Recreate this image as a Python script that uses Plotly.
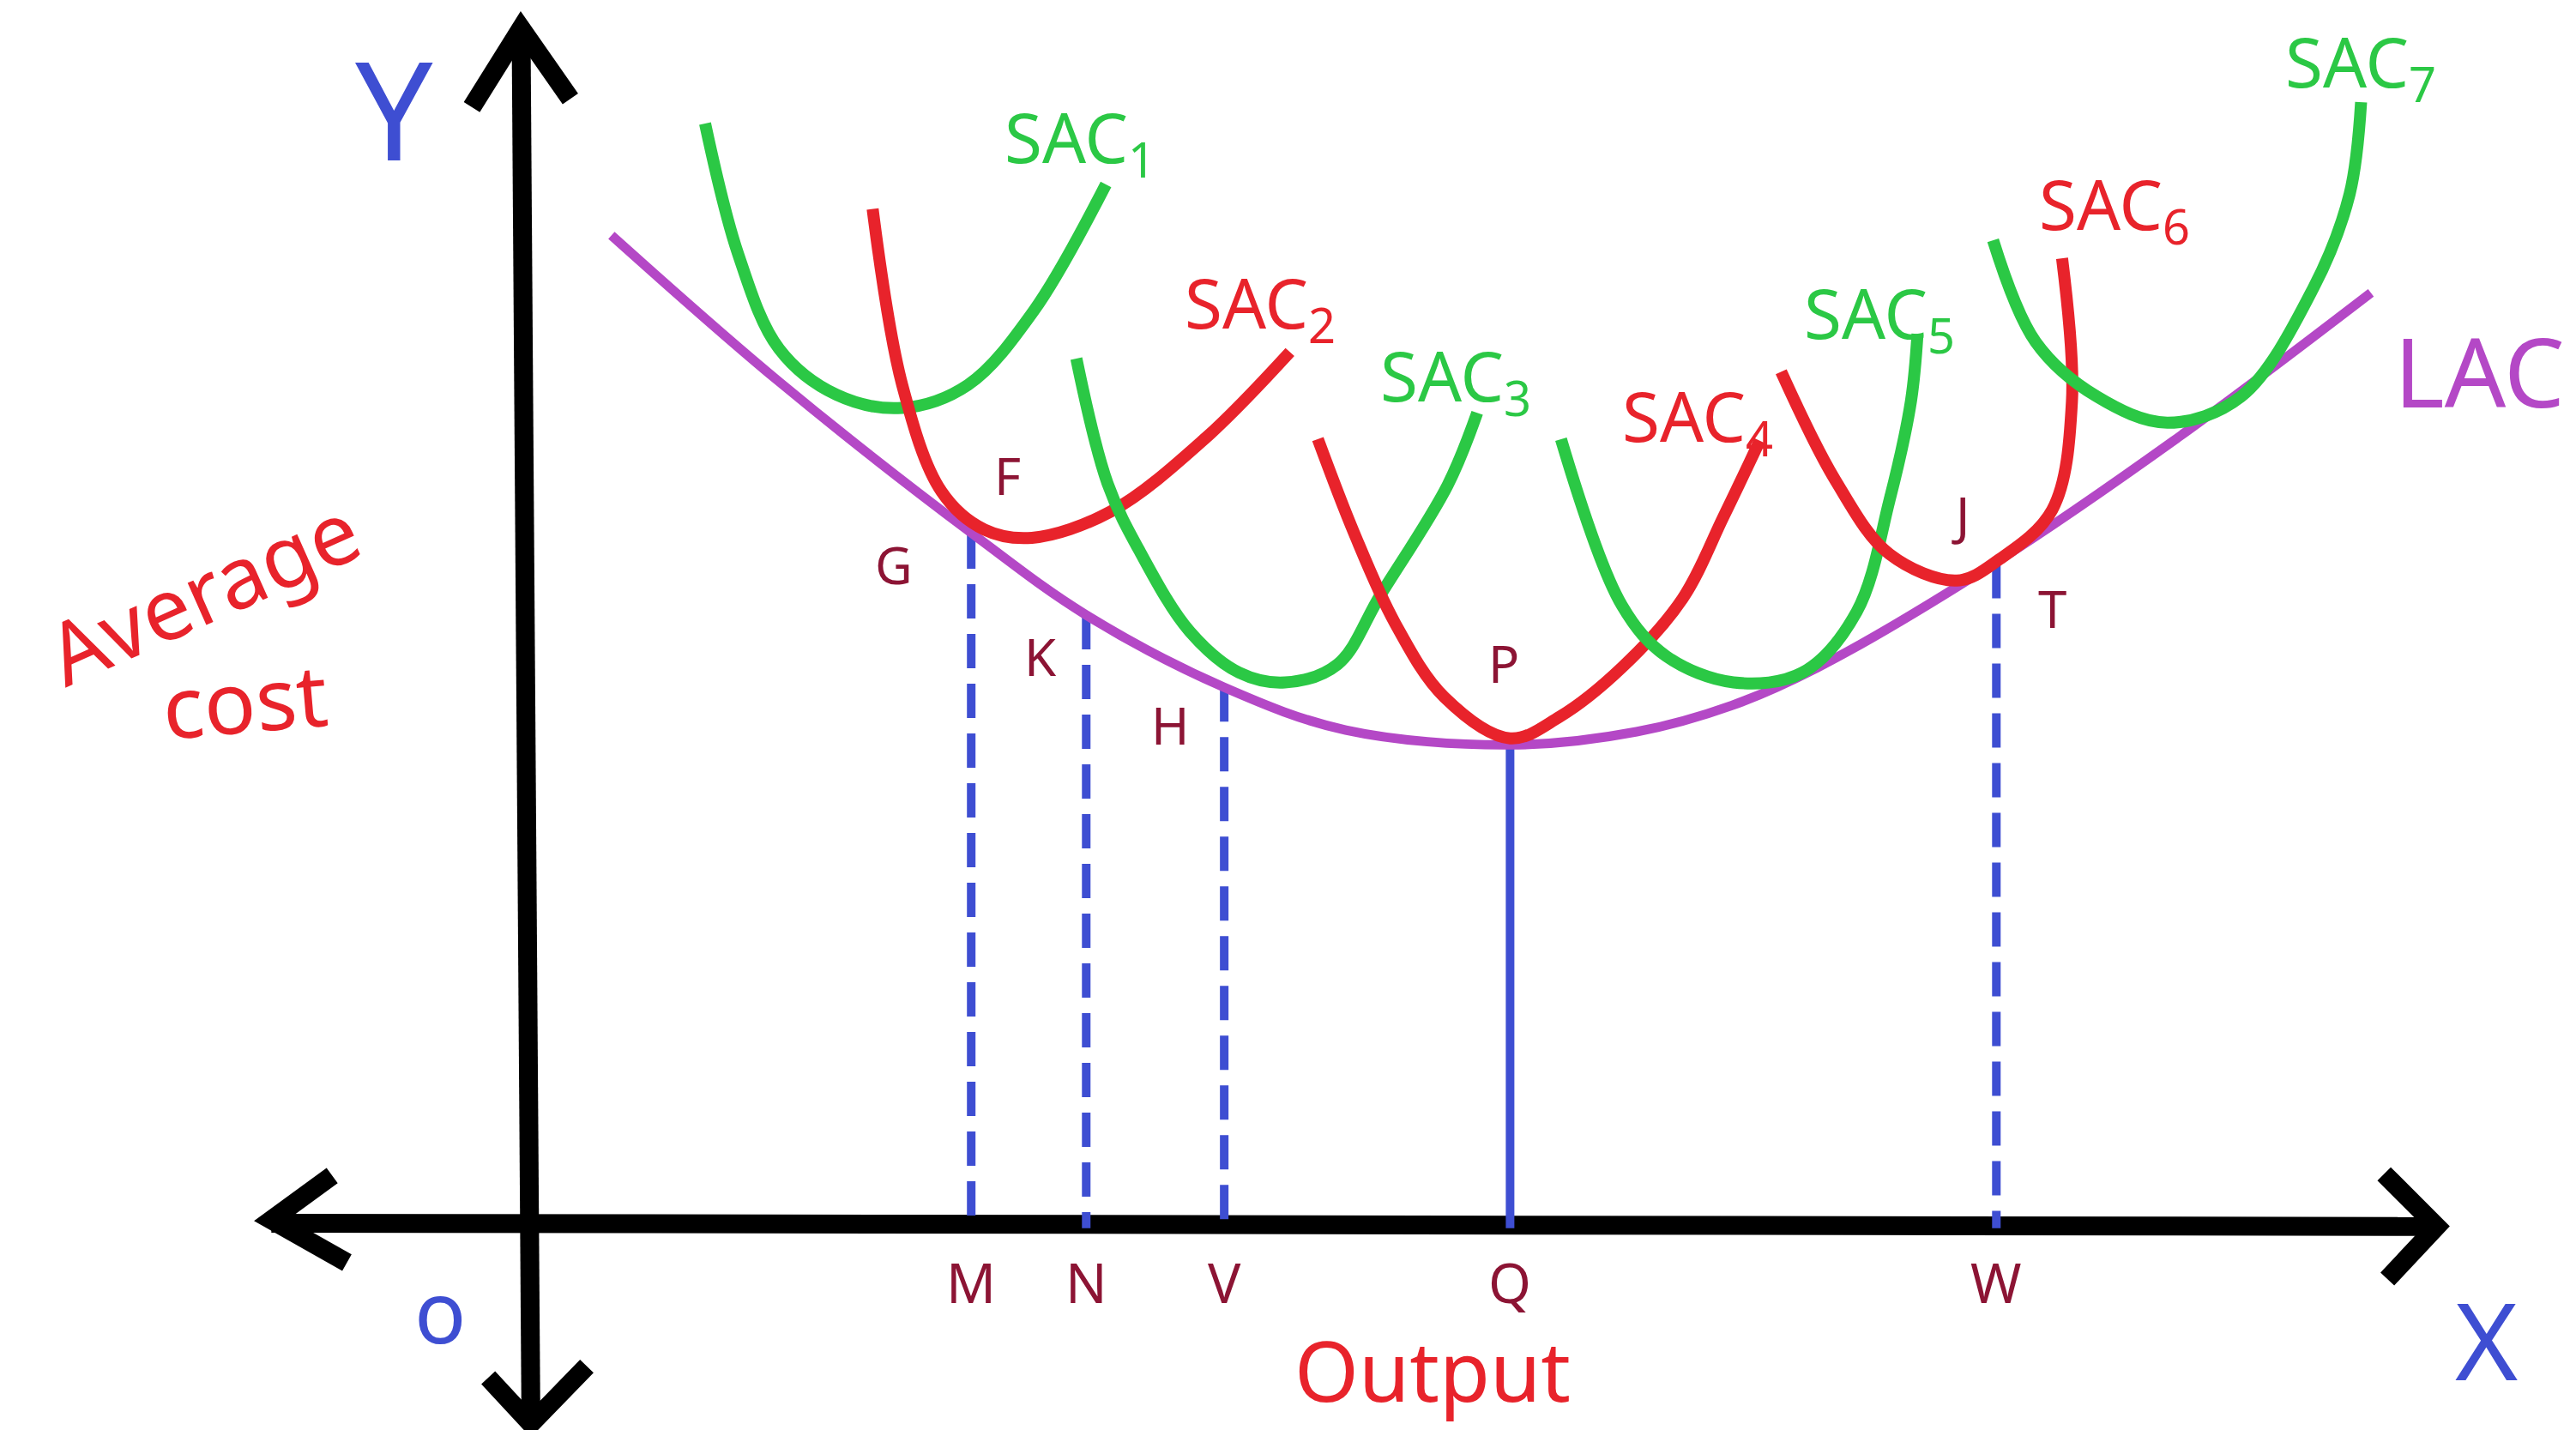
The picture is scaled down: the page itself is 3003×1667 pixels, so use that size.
import plotly.graph_objects as go

# Long-run average cost envelope (output, cost)
lac_x = [5.0, 15.2, 26.9, 33.9, 42.3, 49.7, 59.7, 67.4, 73.2, 78.4, 89.1, 100.5, 112.1]
lac_y = [60.4, 51.5, 42.3, 37.3, 32.9, 30.3, 29.4, 30.2, 31.8, 34.1, 40.4, 48.2, 56.9]

# Short-run average cost curves
sac1_x = [10.7, 12.7, 15.2, 18.7, 22.7, 26.7, 30.7, 35.1]
sac1_y = [67.2, 59.3, 53.5, 50.7, 49.9, 51.3, 55.8, 63.5]
sac2_x = [20.9, 22.7, 25.1, 27.7, 30.6, 35.4, 41.2, 46.3]
sac2_y = [62.0, 51.3, 44.8, 42.5, 42.0, 43.6, 48.1, 53.3]
sac3_x = [33.3, 35.2, 37.2, 40.2, 43.2, 46.0, 49.2, 51.8, 55.9, 57.7]
sac3_y = [52.9, 45.3, 41.1, 36.3, 33.8, 33.2, 34.3, 38.5, 45.2, 49.6]
sac4_x = [48.0, 50.2, 52.7, 55.7, 59.7, 62.7, 66.5, 70.2, 72.7, 74.9]
sac4_y = [48.0, 42.3, 36.8, 32.3, 29.8, 31.1, 34.1, 38.3, 43.3, 47.9]
sac5_x = [62.8, 66.5, 69.2, 73.3, 77.5, 80.8, 82.8, 84.1, 84.5]
sac5_y = [48.0, 37.9, 34.8, 33.2, 33.8, 37.5, 44.3, 50.3, 54.4]
sac6_x = [76.2, 79.5, 82.8, 86.9, 89.5, 92.7, 93.9, 93.3]
sac6_y = [52.1, 45.5, 41.0, 39.4, 40.7, 43.7, 50.3, 59.0]
sac7_x = [89.1, 91.7, 95.4, 99.7, 104.2, 108.6, 110.8, 111.5]
sac7_y = [60.1, 53.9, 50.6, 49.0, 50.6, 57.2, 62.9, 68.5]

sac_names = ["SAC<sub>1</sub>", "SAC<sub>2</sub>", "SAC<sub>3</sub>", "SAC<sub>4</sub>",
             "SAC<sub>5</sub>", "SAC<sub>6</sub>", "SAC<sub>7</sub>"]
sac_label_x = [33.5, 44.5, 56.4, 71.1, 82.2, 96.5, 111.5]
sac_label_y = [66.2, 56.1, 51.7, 49.2, 55.5, 62.1, 70.8]

# Drop lines from the LAC down to the output axis
drop_names = ["M", "N", "V", "Q", "W"]
drop_x = [26.9, 33.9, 42.3, 59.7, 89.3]
drop_y = [42.2, 37.3, 32.9, 29.4, 40.4]
drop_dashed = [True, True, True, False, True]

# Point labels on the curves
point_names = ["G", "F", "K", "H", "P", "J", "T"]
point_x = [22.2, 29.1, 31.1, 39.0, 59.3, 87.1, 92.7]
point_y = [40.4, 45.8, 34.8, 30.6, 34.4, 43.4, 37.7]

GREEN = "#2bc845"
RED = "#e8232b"
PURPLE = "#b448c6"
BLUE = "#3e4ed2"
MAROON = "#8c1434"
FONT = "Noto Sans"

fig = go.Figure()

# -----------------------------
# Axes with chevron arrows
# -----------------------------
axis_line = dict(color="black", width=22)
fig.add_trace(go.Scatter(x=[-0.5, 0.1], y=[73.0, -11.9], mode="lines", line=axis_line))
fig.add_trace(go.Scatter(x=[-15.7, 116.1], y=[0.3, 0.1], mode="lines", line=axis_line))
for ax_, ay_ in [
    ([-3.5, -0.5, 2.5], [68.2, 73.0, 68.7]),
    ([-2.5, 0.1, 3.5], [-9.1, -11.9, -8.4]),
    ([-12.0, -15.7, -11.1], [3.2, 0.5, -2.1]),
    ([112.9, 116.1, 113.1], [3.3, 0.1, -3.1]),
]:
    fig.add_trace(go.Scatter(x=ax_, y=ay_, mode="lines", line=axis_line))

# -----------------------------
# Drop lines
# -----------------------------
for name, dx, dy, dashed in zip(drop_names, drop_x, drop_y, drop_dashed):
    fig.add_trace(go.Scatter(
        x=[dx, dx], y=[dy, 0], mode="lines",
        line=dict(color=BLUE, width=10, dash="40px,18px" if dashed else "solid"),
    ))
    fig.add_annotation(x=dx, y=-3.3, text=name, showarrow=False,
                       font=dict(family=FONT, size=64, color=MAROON))

# -----------------------------
# LAC and SAC curves
# -----------------------------
fig.add_trace(go.Scatter(x=lac_x, y=lac_y, mode="lines", line_shape="spline",
                         line=dict(color=PURPLE, width=11)))

sac_curves = [(sac1_x, sac1_y), (sac2_x, sac2_y), (sac3_x, sac3_y), (sac4_x, sac4_y),
              (sac5_x, sac5_y), (sac6_x, sac6_y), (sac7_x, sac7_y)]
for i, (sx, sy) in enumerate(sac_curves):
    colour = GREEN if i % 2 == 0 else RED
    fig.add_trace(go.Scatter(x=sx, y=sy, mode="lines", line_shape="spline",
                             line=dict(color=colour, width=14)))
    fig.add_annotation(x=sac_label_x[i], y=sac_label_y[i], text=sac_names[i],
                       showarrow=False,
                       font=dict(family=FONT, size=80, color=colour))

for name, px, py in zip(point_names, point_x, point_y):
    fig.add_annotation(x=px, y=py, text=name, showarrow=False,
                       font=dict(family=FONT, size=60, color=MAROON))

# -----------------------------
# Axis titles and labels
# -----------------------------
fig.add_annotation(x=118.7, y=52.2, text="LAC", showarrow=False,
                   font=dict(family=FONT, size=112, color=PURPLE))
fig.add_annotation(x=-8.2, y=68.2, text="Y", showarrow=False,
                   font=dict(family=FONT, size=160, color=BLUE))
fig.add_annotation(x=-5.4, y=-5.0, text="o", showarrow=False,
                   font=dict(family=FONT, size=100, color=BLUE))
fig.add_annotation(x=119.1, y=-6.7, text="X", showarrow=False,
                   font=dict(family=FONT, size=125, color=BLUE))
fig.add_annotation(x=-19.9, y=38.8, text="Average", showarrow=False, textangle=-24,
                   font=dict(family=FONT, size=100, color=RED))
fig.add_annotation(x=-17.3, y=32.2, text="cost", showarrow=False, textangle=-5,
                   font=dict(family=FONT, size=100, color=RED))
fig.add_annotation(x=55.0, y=-8.6, text="Output", showarrow=False,
                   font=dict(family=FONT, size=96, color=RED))

# -----------------------------
# Layout
# -----------------------------
fig.update_layout(
    width=3003,
    height=1667,
    margin=dict(l=0, r=0, t=0, b=0),
    showlegend=False,
    plot_bgcolor="white",
    paper_bgcolor="white",
    xaxis=dict(range=[-31.8, 125.0], visible=False),
    yaxis=dict(range=[-12.7, 74.3], visible=False),
)

fig.write_html("out.html")
